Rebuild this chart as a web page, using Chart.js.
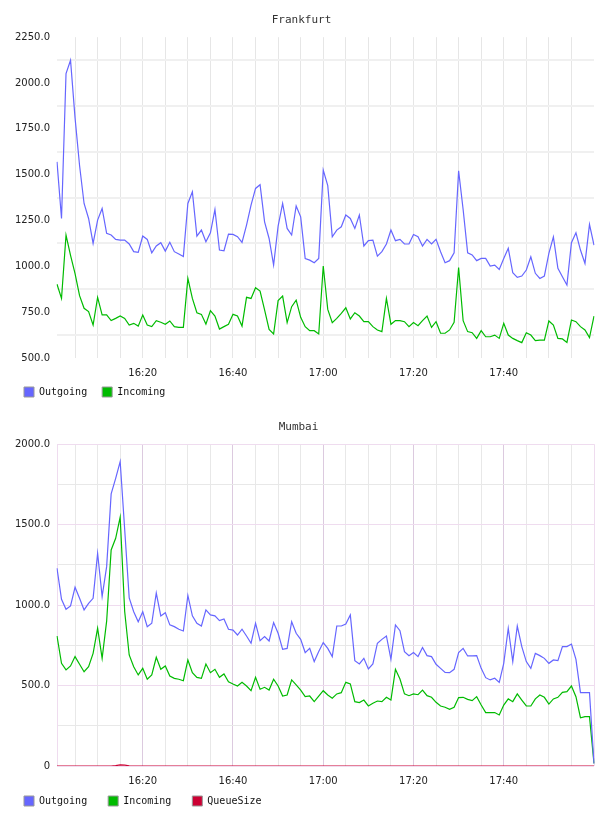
<!DOCTYPE html>
<html>
<head>
<meta charset="utf-8">
<script src="https://cdn.jsdelivr.net/npm/chart.js@4"></script>
<style>
  body { margin: 0; background: #fff; }
  canvas { display: block; }
</style>
</head>
<body>
<canvas id="frankfurt" width="608" height="408"></canvas>
<canvas id="mumbai" width="608" height="408"></canvas>
<script>
// one sample per minute, 16:01 .. 18:00
const times = [];
for (let m = 1; m <= 120; m++) {
  const t = 16 * 60 + m;
  times.push(Math.floor(t / 60) + ':' + String(t % 60).padStart(2, '0'));
}

const frankfurtOutgoing = [
  1570, 1261, 2052, 2124, 1810, 1550, 1343, 1261, 1125, 1252,
  1316, 1180, 1171, 1147, 1143, 1143, 1122, 1080, 1076, 1165,
  1147, 1074, 1111, 1129, 1083, 1131, 1080, 1067, 1053, 1343,
  1407, 1165, 1198, 1134, 1183, 1310, 1089, 1085, 1176, 1174,
  1162, 1131, 1225, 1334, 1425, 1445, 1243, 1152, 1007, 1220,
  1343, 1207, 1171, 1329, 1270, 1043, 1034, 1020, 1043, 1525,
  1440, 1161, 1198, 1216, 1280, 1261, 1207, 1280, 1111, 1140,
  1143, 1056, 1080, 1122, 1198, 1140, 1147, 1122, 1122, 1174,
  1162, 1111, 1147, 1122, 1147, 1080, 1020, 1031, 1074, 1521,
  1310, 1074, 1062, 1031, 1043, 1043, 1002, 1007, 983, 1043,
  1098, 965, 940, 947, 980, 1052, 962, 934, 947, 1071,
  1161, 989, 943, 898, 1129, 1183, 1089, 1016, 1229, 1116
];
const frankfurtIncoming = [
  902, 825, 1170, 1060, 960, 840, 771, 753, 680, 831,
  735, 735, 704, 716, 729, 716, 680, 689, 674, 735,
  680, 671, 704, 695, 684, 702, 671, 667, 667, 934,
  825, 747, 738, 685, 758, 729, 658, 671, 684, 738,
  729, 674, 831, 825, 883, 865, 762, 656, 631, 813,
  838, 693, 780, 816, 722, 671, 649, 649, 631, 1002,
  765, 693, 716, 744, 774, 713, 747, 729, 698, 698,
  671, 653, 644, 825, 684, 704, 704, 698, 671, 693,
  676, 704, 729, 667, 698, 635, 635, 653, 695, 994,
  704, 644, 638, 607, 649, 616, 616, 625, 607, 689,
  625, 607, 595, 584, 638, 625, 595, 598, 598, 702,
  680, 607, 604, 585, 707, 698, 671, 653, 611, 729
];

const mumbaiOutgoing = [
  1229, 1036, 974, 995, 1111, 1042, 970, 1011, 1042, 1322,
  1053, 1239, 1691, 1788, 1892, 1470, 1045, 959, 897, 959,
  866, 887, 1075, 933, 953, 877, 866, 850, 839, 1060,
  933, 887, 870, 970, 939, 933, 904, 914, 850, 845,
  814, 850, 808, 763, 887, 779, 804, 777, 891, 825,
  725, 731, 897, 825, 787, 705, 731, 649, 711, 767,
  731, 680, 870, 870, 883, 939, 655, 634, 669, 603,
  634, 763, 787, 808, 663, 877, 841, 711, 686, 705,
  680, 736, 686, 680, 632, 607, 582, 580, 601, 705,
  731, 684, 684, 686, 607, 549, 535, 545, 520, 638,
  856, 649, 870, 742, 649, 607, 700, 686, 669, 638,
  659, 655, 742, 742, 758, 663, 456, 456, 456, 16
];
const mumbaiIncoming = [
  808, 638, 597, 622, 680, 632, 586, 617, 700, 856,
  669, 900, 1343, 1415, 1546, 960, 690, 617, 566, 607,
  539, 566, 676, 601, 622, 559, 545, 539, 530, 659,
  580, 551, 545, 634, 580, 601, 551, 572, 524, 510,
  497, 520, 497, 468, 551, 477, 489, 472, 539, 497,
  435, 441, 535, 504, 472, 431, 435, 400, 435, 468,
  441, 421, 448, 456, 520, 510, 400, 394, 410, 373,
  390, 404, 400, 427, 410, 601, 541, 448, 437, 448,
  443, 472, 437, 427, 396, 373, 365, 352, 365, 425,
  427, 414, 406, 431, 379, 332, 332, 332, 317, 379,
  417, 400, 448, 410, 373, 373, 417, 441, 427, 385,
  417, 427, 458, 462, 497, 431, 300, 307, 307, 16
];
const mumbaiQueueSize = [
  0, 0, 0, 0, 0, 0, 0, 0, 0, 0,
  0, 0, 0, 2, 7, 6, 1, 0, 0, 0,
  0, 0, 0, 0, 0, 0, 0, 0, 0, 0,
  0, 0, 0, 0, 0, 0, 0, 0, 0, 0,
  0, 0, 0, 0, 0, 0, 0, 0, 0, 0,
  0, 0, 0, 0, 0, 0, 0, 0, 0, 0,
  0, 0, 0, 0, 0, 0, 0, 0, 0, 0,
  0, 0, 0, 0, 0, 0, 0, 0, 0, 0,
  0, 0, 0, 0, 0, 0, 0, 0, 0, 0,
  0, 0, 0, 0, 0, 0, 0, 0, 0, 0,
  0, 0, 0, 0, 0, 0, 0, 0, 0, 0,
  0, 0, 0, 0, 0, 0, 0, 0, 0, 0
];

const BLUE = '#6666ff';
const GREEN = '#00bb00';
const RED = '#cc0033';
const NONE = 'rgba(0,0,0,0)';
const PINK = '#efdcef';

const tickFont = { family: 'DejaVu Sans', size: 10 };
const monoFont = { family: 'DejaVu Sans Mono', size: 10 };

function line(label, data, color) {
  return {
    label, data,
    borderColor: color,
    backgroundColor: color,
    borderWidth: 1.2,
    pointRadius: 0,
    tension: 0
  };
}

function minuteLabel(v, i) {
  const m = i + 1;
  return (m % 20 === 0 && m < 120) ? times[i] : '';
}

// legend is laid out small, then pulled up under the axis labels
const legendPlacer = {
  id: 'legendPlacer',
  afterLayout(chart, args, o) {
    const lg = chart.legend;
    lg.top = o.top;
    lg.bottom = chart.height;
    lg.height = lg.bottom - lg.top;
  }
};

function makeChart(id, title, datasets, opts) {
  return new Chart(document.getElementById(id), {
    type: 'line',
    data: { labels: times, datasets },
    plugins: [legendPlacer],
    options: {
      responsive: false,
      animation: false,
      layout: { padding: { left: opts.padLeft, right: 14, top: 0, bottom: 0 } },
      plugins: {
        title: {
          display: true,
          text: title,
          color: '#333',
          font: { family: 'DejaVu Sans Mono', size: 11, weight: 'normal' },
          padding: { top: opts.titleTop, bottom: 10 }
        },
        legend: {
          position: 'bottom',
          align: 'start',
          maxHeight: 25,
          labels: {
            font: monoFont,
            color: '#111',
            boxWidth: 10,
            boxHeight: 10,
            padding: opts.legendPad,
            generateLabels(chart) {
              return Chart.defaults.plugins.legend.labels.generateLabels(chart).map(it => {
                it.strokeStyle = '#999';
                it.lineWidth = 1;
                return it;
              });
            }
          }
        },
        legendPlacer: { top: opts.legendTop },
        tooltip: { enabled: false }
      },
      scales: {
        x: {
          afterFit(s) { s.height = 25; },
          grid: {
            drawTicks: false,
            color: ctx => opts.vColor(ctx.index + 1),
            lineWidth: 1
          },
          border: { display: false },
          ticks: {
            autoSkip: false,
            maxRotation: 0,
            padding: 9,
            font: tickFont,
            color: '#222',
            callback: minuteLabel
          }
        },
        y: {
          min: opts.yMin,
          max: opts.yMax,
          afterFit(s) { s.width = opts.yWidth; },
          grid: opts.yGrid,
          border: opts.yBorder,
          ticks: {
            stepSize: 250,
            padding: 7,
            font: tickFont,
            color: '#222',
            callback: opts.yLabel
          }
        }
      }
    }
  });
}

makeChart('frankfurt', 'Frankfurt', [
  line('Outgoing', frankfurtOutgoing, BLUE),
  line('Incoming', frankfurtIncoming, GREEN)
], {
  padLeft: 9, yWidth: 48, legendPad: 15, legendTop: 372, titleTop: 14,
  yMin: 500, yMax: 2250,
  yLabel: v => v.toFixed(1),
  yGrid: { offset: true, drawTicks: false, color: '#f0f0f0', lineWidth: 2 },
  yBorder: { display: false },
  vColor: m => (m % 5 === 0 && m < 120 ? '#e6e6e6' : NONE)
});

makeChart('mumbai', 'Mumbai', [
  line('Outgoing', mumbaiOutgoing, BLUE),
  line('Incoming', mumbaiIncoming, GREEN),
  line('QueueSize', mumbaiQueueSize, RED)
], {
  padLeft: 3, yWidth: 54, legendPad: 21, legendTop: 367, titleTop: 13,
  yMin: 0, yMax: 2000,
  yLabel: v => (v === 0 ? '0' : (v % 500 === 0 ? v.toFixed(1) : '')),
  yGrid: {
    drawTicks: false,
    color: ctx => (ctx.tick && ctx.tick.value % 500 === 0 ? PINK : '#e8e8e8'),
    lineWidth: 1
  },
  yBorder: { display: true, color: PINK, width: 1 },
  vColor: m => (m === 120 ? PINK : m % 20 === 0 ? '#dccadf' : (m % 5 === 0 ? '#e8e8e8' : NONE))
});
</script>
</body>
</html>
